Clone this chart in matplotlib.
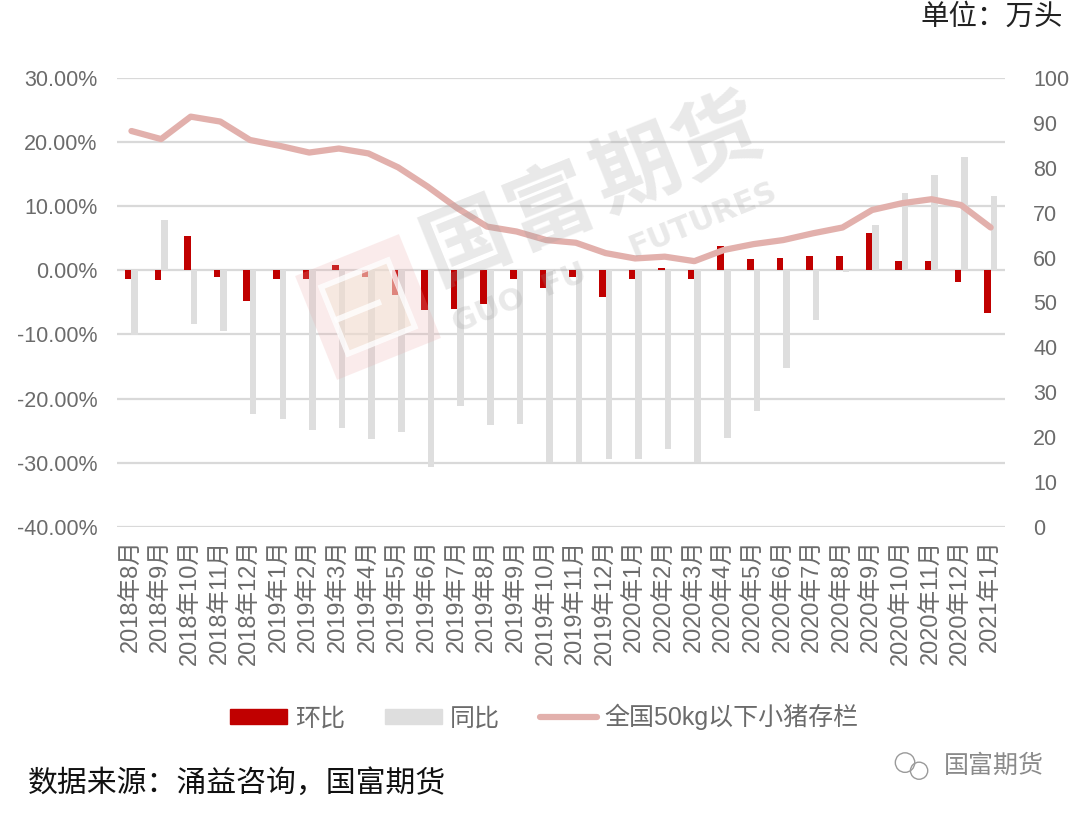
import matplotlib
matplotlib.use("Agg")
import matplotlib.pyplot as plt
import matplotlib.patches as mpatches
import matplotlib.transforms as mtransforms
from matplotlib.lines import Line2D
from matplotlib.ticker import FuncFormatter
from matplotlib import font_manager
import numpy as np

# pick a narrow latin face if there is one, CJK goes to Noto
_names = {f.name for f in font_manager.fontManager.ttflist}
latin = 'Liberation Sans Narrow' if 'Liberation Sans Narrow' in _names else 'Liberation Sans'
plt.rcParams['font.family'] = [latin, 'Noto Sans CJK SC', 'DejaVu Sans']

months = ['2018年8月', '2018年9月', '2018年10月', '2018年11月', '2018年12月',
          '2019年1月', '2019年2月', '2019年3月', '2019年4月', '2019年5月',
          '2019年6月', '2019年7月', '2019年8月', '2019年9月', '2019年10月',
          '2019年11月', '2019年12月', '2020年1月', '2020年2月', '2020年3月',
          '2020年4月', '2020年5月', '2020年6月', '2020年7月', '2020年8月',
          '2020年9月', '2020年10月', '2020年11月', '2020年12月', '2021年1月']
# 环比 (%)
mom = [-1.4, -1.5, 5.4, -1.0, -4.8, -1.3, -1.3, 0.9, -1.1, -3.8,
       -6.2, -6.1, -5.3, -1.4, -2.8, -1.0, -4.2, -1.3, 0.3, -1.3,
       3.8, 1.7, 1.9, 2.2, 2.3, 5.9, 1.5, 1.4, -1.8, -6.7]
# 同比 (%)
yoy = [-10.1, 7.8, -8.4, -9.4, -22.4, -23.2, -24.9, -24.6, -26.3, -25.2,
       -30.7, -21.1, -24.1, -23.9, -29.9, -29.9, -29.4, -29.4, -27.8, -29.9,
       -26.2, -22.0, -15.3, -7.8, -0.3, 7.1, 12.0, 14.8, 17.7, 11.6]
# 全国50kg以下小猪存栏 (万头)
stock = [88.2, 86.4, 91.4, 90.3, 86.2, 84.9, 83.4, 84.3, 83.2, 80.1,
         75.8, 71.0, 66.9, 65.8, 63.9, 63.3, 61.0, 59.8, 60.2, 59.2,
         61.7, 63.0, 63.9, 65.4, 66.7, 70.6, 72.1, 73.0, 71.7, 66.7]

RED = '#c00000'
GREY = '#dedede'
PINK = '#e2b0ac'
GRID = '#d9d9d9'
TXT = '#6b6b6b'


def pct(v, pos):
    v = round(v * 100, 6) + 0.0
    if abs(v) < 1e-9:
        v = 0.0
    return f'{v:.2f}%'


fig = plt.figure(figsize=(10.8, 8.13), dpi=100)
ax = fig.add_axes([0.108, 0.352, 0.823, 0.552])
ax2 = ax.twinx()

x = np.arange(len(months))
w = 0.22
ax.bar(x - w / 2, np.array(mom) / 100, w, color=RED, zorder=3)
ax.bar(x + w / 2, np.array(yoy) / 100, w, color=GREY, zorder=2)
ax2.plot(x, stock, color=PINK, lw=4.5, solid_capstyle='round', solid_joinstyle='round')

ax.set_xlim(-0.5, len(months) - 0.5)
ax.set_ylim(-0.4, 0.3)
ax.set_yticks(np.arange(-0.4, 0.31, 0.1))
ax.yaxis.set_major_formatter(FuncFormatter(pct))
ax.grid(axis='y', color=GRID, lw=1.6, zorder=0)
ax.set_axisbelow(True)
ax.set_xticks(x)
ax.set_xticklabels(months, rotation=90)

ax2.set_ylim(0, 100)
ax2.set_yticks(range(0, 101, 10))

for a in (ax, ax2):
    for s in a.spines.values():
        s.set_visible(False)
    a.tick_params(length=0, labelsize=15.5, labelcolor=TXT)
ax.tick_params(axis='y', pad=14)
ax.tick_params(axis='x', pad=9, labelsize=17)
ax2.tick_params(axis='y', pad=20)

# legend
handles = [mpatches.Patch(color=RED), mpatches.Patch(color=GREY),
           Line2D([], [], color=PINK, lw=4.5, solid_capstyle='round')]
fig.legend(handles, ['环比', '同比', '全国50kg以下小猪存栏'], loc='center', ncol=3,
           bbox_to_anchor=(0.504, 0.118), frameon=False, fontsize=18,
           handlelength=2.3, handleheight=0.6, handletextpad=0.3, columnspacing=1.6,
           labelcolor=TXT)

fig.text(0.984, 0.978, '单位：万头', ha='right', va='center', fontsize=20.5, color='#222222')
fig.text(0.026, 0.037, '数据来源：涌益咨询，国富期货', ha='left', va='center', fontsize=21.5, color='#111111')

# wechat tag, bottom right
fig.text(0.967, 0.058, '国富期货', ha='right', va='center', fontsize=18, color='#8a8a8a')
fig.patches.append(mpatches.Ellipse((0.838, 0.062), 0.018, 0.024, transform=fig.transFigure,
                                    fill=False, ec='#9a9a9a', lw=1.0))
fig.patches.append(mpatches.Ellipse((0.851, 0.052), 0.016, 0.021, transform=fig.transFigure,
                                    fill=False, ec='#9a9a9a', lw=1.0))

# watermark
wm_rot = 22
for ch, px, py in [('国', 467, 243), ('富', 550, 208), ('期', 636, 172), ('货', 718, 140)]:
    fig.text(px / 1080, 1 - py / 813, ch, fontsize=62, fontweight='bold', color='#9a9a9a',
             alpha=0.22, rotation=wm_rot, ha='center', va='center', family=['Noto Sans CJK SC'])
fig.text(520 / 1080, 1 - 298 / 813, 'GUO  FU', fontsize=22, fontweight='bold', color='#9a9a9a',
         alpha=0.22, rotation=wm_rot, ha='center', va='center', family=['DejaVu Sans'])
fig.text(703 / 1080, 1 - 220 / 813, 'FUTURES', fontsize=22, fontweight='bold', color='#9a9a9a',
         alpha=0.22, rotation=wm_rot, ha='center', va='center', family=['DejaVu Sans'])

# watermark logo: rotated pink square with pale frame inside
tr = mtransforms.Affine2D().rotate_deg_around(368, 813 - 307, wm_rot) + mtransforms.IdentityTransform()
logo = mpatches.Rectangle((368 - 56, 813 - 307 - 56), 112, 112, transform=tr,
                          color='#eba8a8', alpha=0.22, lw=0)
core = mpatches.Rectangle((368 - 34, 813 - 307 - 34), 68, 68, transform=tr,
                          color='#f3e6d6', alpha=0.5, lw=0)
inner = mpatches.Rectangle((368 - 36, 813 - 307 - 36), 72, 72, transform=tr,
                           fill=False, ec='white', lw=4, alpha=0.8)
bar1 = mpatches.Rectangle((368 - 36, 813 - 307 - 3), 50, 6, transform=tr,
                          color='white', alpha=0.8, lw=0)
fig.patches.extend([logo, core, inner, bar1])

fig.savefig('out.png', dpi=100)
